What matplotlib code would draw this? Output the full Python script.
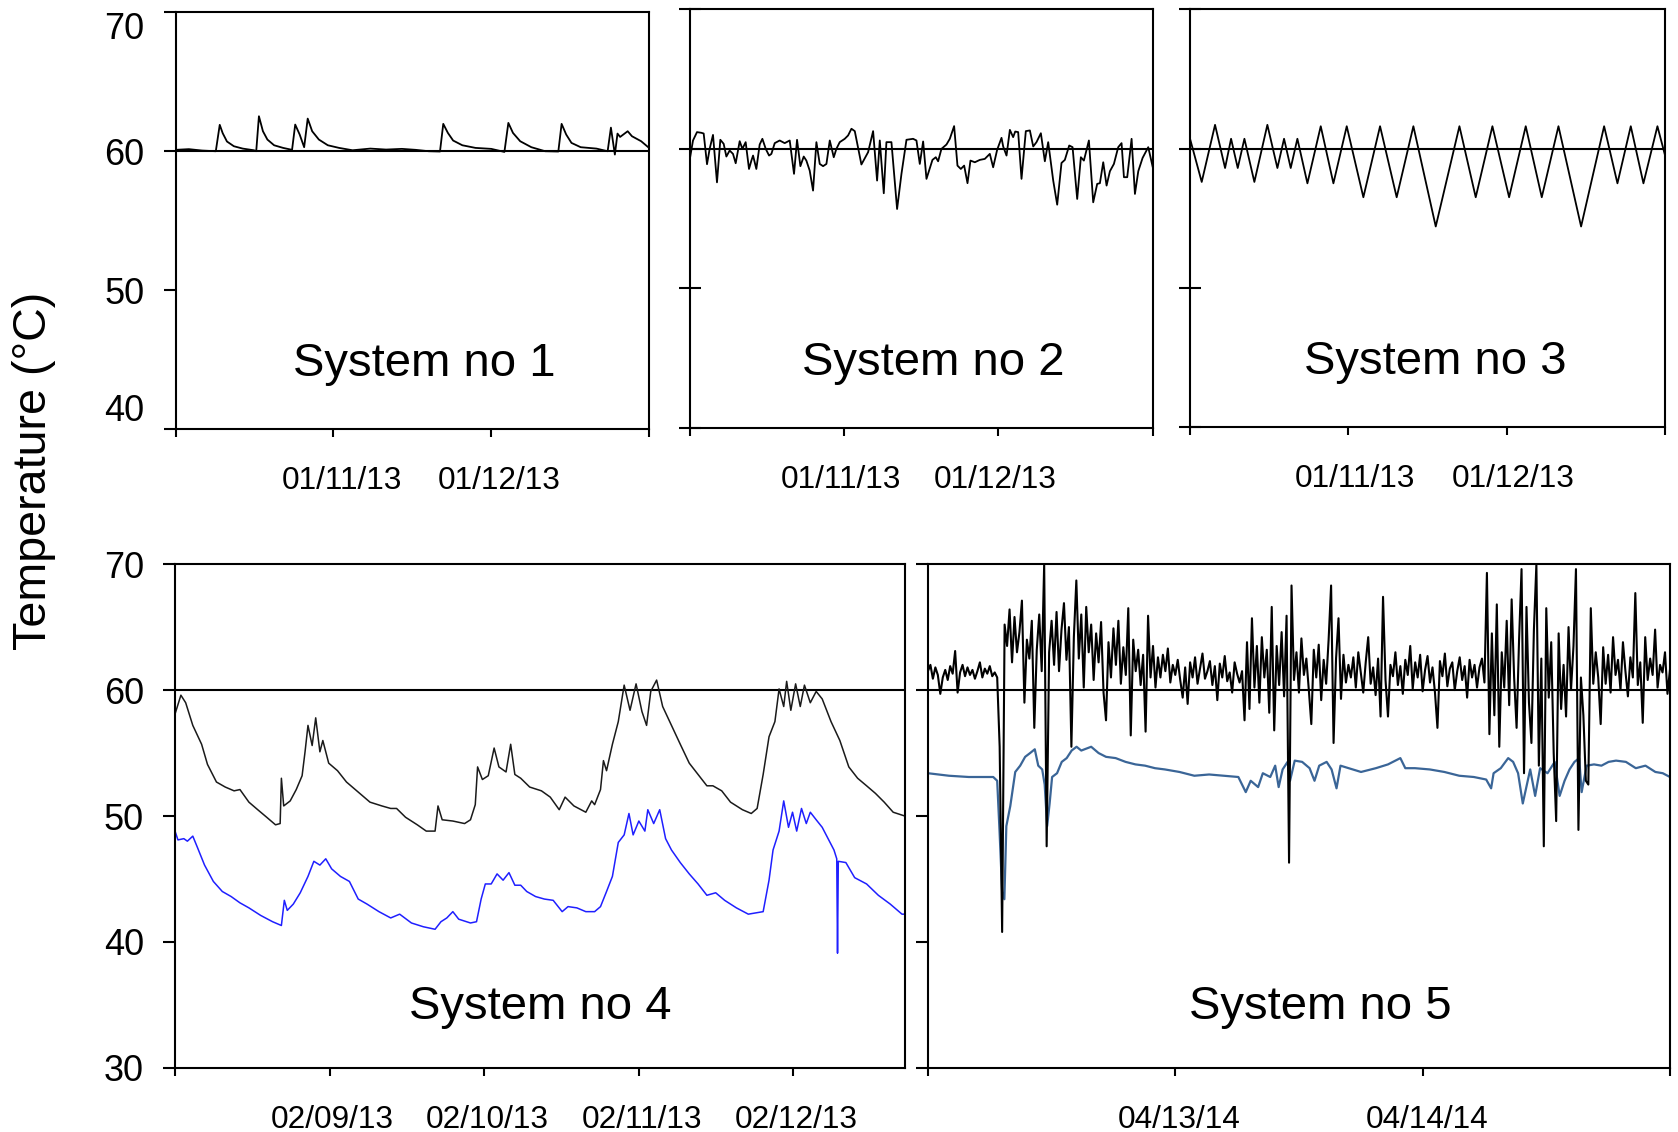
import numpy as np
import matplotlib
matplotlib.use("Agg")
import matplotlib.pyplot as plt
from matplotlib.transforms import ScaledTranslation

plt.rcParams['font.family'] = ['Liberation Sans', 'DejaVu Sans']

# ---- System no 1 (hours from 01/10/13 00:00, temperature) ----
s1 = [(0, 60.1), (2, 60.15), (4, 60.05), (6.1, 60.0), (6.7, 61.9), (7.15, 61.3),
      (7.8, 60.7), (8.85, 60.36), (10.2, 60.19), (11.9, 60.07), (12.25, 60.0),
      (12.66, 62.52), (13.27, 61.44), (13.95, 60.84), (14.97, 60.43), (16.34, 60.24),
      (17.7, 60.1), (18.18, 61.92), (18.86, 61.2), (19.54, 60.29), (20.08, 62.35),
      (20.76, 61.44), (21.78, 60.84), (23.14, 60.43), (24.85, 60.24), (26.9, 60.07),
      (29.6, 60.19), (32, 60.12), (34.4, 60.17), (36.5, 60.1), (38.5, 60.0),
      (40.2, 59.98), (40.7, 61.97), (41.4, 61.32), (42.2, 60.77), (43.6, 60.43),
      (45.6, 60.24), (48.0, 60.17), (50.0, 59.95), (50.6, 62.04), (51.3, 61.32),
      (52.4, 60.72), (54.1, 60.29), (56.2, 60.0), (58.2, 59.98), (58.7, 61.97),
      (59.4, 61.2), (60.2, 60.6), (61.6, 60.29), (64.0, 60.19), (65.7, 60.0),
      (66.2, 61.7), (66.8, 59.76), (67.2, 61.27), (67.6, 61.03), (68.75, 61.44),
      (69.4, 61.08), (70.8, 60.72), (72, 60.24)]

# ---- System no 2 ----
s2_hours = [0.0, 0.52, 1.14, 1.82, 2.18, 2.70, 3.11, 3.63, 4.25, 4.77,
            5.29, 5.71, 6.22, 6.74, 7.16, 7.78, 8.20, 8.71, 9.23, 9.60,
            9.86, 10.37, 10.89, 11.31, 11.83, 12.35, 12.71, 13.23, 14.00, 14.78,
            15.56, 16.23, 16.70, 17.22, 17.74, 18.15, 18.67, 19.19, 19.71, 20.23,
            20.75, 21.27, 21.79, 22.41, 22.82, 23.34, 24.12, 24.64, 25.16, 25.68,
            26.71, 27.75, 28.53, 29.15, 29.57, 30.19, 30.60, 31.38, 32.26, 32.94,
            33.72, 34.75, 35.27, 35.79, 36.31, 36.83, 37.76, 38.28, 38.64, 39.16,
            39.94, 40.46, 41.13, 41.65, 42.17, 42.69, 43.21, 43.67, 44.35, 45.13,
            45.90, 46.68, 47.20, 47.82, 48.50, 48.76, 49.28, 49.80, 50.31, 50.63,
            51.09, 51.61, 52.28, 52.91, 53.43, 53.94, 54.62, 55.24, 55.76, 56.54,
            57.16, 57.83, 58.35, 59.03, 59.55, 60.27, 60.84, 61.31, 62.09, 62.76,
            63.38, 63.80, 64.32, 64.84, 65.36, 65.98, 66.65, 67.17, 67.54, 68.05,
            68.73, 69.25, 69.77, 70.44, 71.32, 72.0]
s2_temp = [59.2, 60.6, 61.2, 61.15, 61.1, 58.9, 60.0, 61.0, 57.6, 60.65,
           60.36, 59.45, 59.88, 59.64, 58.97, 60.55, 60.0, 60.48, 58.56, 59.16,
           59.52, 58.56, 60.31, 60.72, 60.0, 59.52, 59.64, 60.41, 60.6, 60.41,
           60.6, 58.21, 60.65, 58.76, 59.45, 59.16, 58.44, 57.01, 60.48, 58.92,
           58.76, 58.92, 60.6, 59.4, 60.0, 60.48, 60.72, 60.96, 61.44, 61.27,
           58.88, 59.76, 61.27, 57.73, 60.6, 56.82, 60.48, 60.48, 55.69, 58.21,
           60.65, 60.72, 60.6, 58.92, 60.53, 57.85, 59.21, 59.4, 59.11, 60.0,
           60.31, 60.72, 61.63, 58.8, 58.56, 58.8, 57.54, 59.16, 59.04, 59.21,
           59.28, 59.64, 58.68, 59.93, 60.79, 60.17, 59.52, 61.36, 60.84, 61.24,
           61.2, 57.85, 61.27, 61.32, 60.17, 60.48, 61.12, 59.11, 60.48, 57.73,
           56.0, 58.99, 59.21, 60.24, 60.12, 56.41, 59.4, 59.16, 60.6, 56.17,
           57.49, 57.54, 59.04, 57.37, 58.4, 58.92, 60.12, 60.41, 57.97, 57.97,
           60.72, 56.77, 58.4, 59.35, 60.12, 58.73]

# ---- System no 3 ----
s3_hours = [0, 1.77, 3.79, 5.31, 6.22, 7.23, 8.24, 9.75, 11.72, 13.24, 14.25, 15.26,
            16.27, 17.79, 19.81, 21.73, 23.75, 26.27, 28.80, 31.32, 33.85, 37.24,
            40.83, 43.30, 45.83, 48.36, 50.88, 53.31, 55.84, 59.27, 62.76, 64.78,
            66.80, 68.72, 70.84, 72.0]
s3_temp = [60.7, 57.6, 61.7, 58.6, 60.7, 58.6, 60.7, 57.6, 61.7, 58.6, 60.7, 58.6,
           60.7, 57.5, 61.6, 57.5, 61.6, 56.5, 61.6, 56.5, 61.6, 54.4,
           61.6, 56.5, 61.6, 56.5, 61.6, 56.5, 61.6, 54.4, 61.6, 57.5,
           61.6, 57.5, 61.6, 59.5]

top_ticks = [0, 24, 48, 72]
top_labels = ['', '01/11/13', '01/12/13', '']

# ---- System no 4 (days from 02/08/13 00:00) ----
s4_black = [(0, 58.1), (0.038, 59.6), (0.069, 59.0), (0.115, 57.2), (0.172, 55.7),
            (0.21, 54.1), (0.268, 52.7), (0.325, 52.3), (0.382, 52.0), (0.42, 52.1),
            (0.478, 51.1), (0.535, 50.5), (0.593, 49.9), (0.65, 49.3), (0.68, 49.4),
            (0.688, 53.0), (0.703, 50.8), (0.745, 51.2), (0.784, 52.1), (0.822, 53.2),
            (0.841, 55.1), (0.86, 57.2), (0.887, 55.6), (0.91, 57.8), (0.937, 55.1),
            (0.956, 56.0), (0.994, 54.2), (1.051, 53.6), (1.109, 52.7), (1.166, 52.1),
            (1.204, 51.7), (1.261, 51.1), (1.338, 50.8), (1.395, 50.6), (1.433, 50.6),
            (1.491, 49.9), (1.567, 49.3), (1.625, 48.8), (1.682, 48.8), (1.701, 50.8),
            (1.728, 49.7), (1.797, 49.6), (1.873, 49.4), (1.911, 49.7), (1.942, 50.9),
            (1.957, 53.9), (1.988, 52.9), (2.026, 53.2), (2.064, 55.4), (2.095, 53.9),
            (2.141, 53.5), (2.171, 55.7), (2.198, 53.3), (2.236, 53.0), (2.294, 52.3),
            (2.37, 52.0), (2.427, 51.5), (2.485, 50.5), (2.523, 51.5), (2.58, 50.8),
            (2.657, 50.3), (2.695, 51.2), (2.714, 50.9), (2.752, 52.1), (2.771, 54.4),
            (2.791, 53.6), (2.829, 55.7), (2.867, 57.5), (2.905, 60.4), (2.943, 58.4),
            (2.982, 60.5), (3.02, 58.3), (3.05, 57.2), (3.077, 59.9), (3.115, 60.8),
            (3.154, 58.7), (3.211, 57.2), (3.268, 55.7), (3.326, 54.2), (3.383, 53.3),
            (3.44, 52.4), (3.479, 52.4), (3.536, 52.0), (3.593, 51.1), (3.67, 50.5),
            (3.727, 50.2), (3.765, 50.6), (3.804, 53.3), (3.842, 56.3), (3.88, 57.5),
            (3.907, 60.1), (3.937, 58.7), (3.956, 60.7), (3.983, 58.4), (4.014, 60.5),
            (4.044, 58.7), (4.071, 60.4), (4.109, 59.0), (4.147, 59.9), (4.186, 59.3),
            (4.243, 57.5), (4.3, 56.0), (4.358, 53.9), (4.415, 53.0), (4.473, 52.4),
            (4.53, 51.8), (4.587, 51.1), (4.645, 50.3), (4.72, 50.0)]
s4_blue = [(0, 48.8), (0.019, 48.1), (0.057, 48.2), (0.08, 48.0), (0.115, 48.4),
           (0.145, 47.5), (0.191, 46.1), (0.248, 44.8), (0.306, 44.0), (0.363, 43.6),
           (0.42, 43.1), (0.478, 42.7), (0.554, 42.1), (0.631, 41.6), (0.688, 41.3),
           (0.707, 43.3), (0.726, 42.5), (0.765, 43.0), (0.81, 43.9), (0.86, 45.2),
           (0.898, 46.4), (0.937, 46.1), (0.975, 46.6), (1.013, 45.8), (1.07, 45.2),
           (1.128, 44.8), (1.185, 43.4), (1.242, 43.0), (1.319, 42.4), (1.395, 41.9),
           (1.453, 42.2), (1.529, 41.5), (1.606, 41.2), (1.682, 41.0), (1.72, 41.6),
           (1.758, 41.9), (1.797, 42.4), (1.835, 41.8), (1.911, 41.5), (1.95, 41.6),
           (1.98, 43.4), (2.007, 44.6), (2.045, 44.6), (2.083, 45.4), (2.122, 44.9),
           (2.16, 45.5), (2.198, 44.5), (2.236, 44.5), (2.275, 44.0), (2.332, 43.6),
           (2.389, 43.4), (2.446, 43.3), (2.504, 42.4), (2.542, 42.8), (2.599, 42.7),
           (2.657, 42.4), (2.714, 42.4), (2.752, 42.8), (2.791, 44.0), (2.829, 45.2),
           (2.867, 47.9), (2.905, 48.5), (2.936, 50.2), (2.963, 48.5), (3.0, 49.6),
           (3.039, 48.8), (3.058, 50.5), (3.096, 49.4), (3.135, 50.5), (3.173, 48.2),
           (3.211, 47.3), (3.268, 46.3), (3.326, 45.4), (3.383, 44.6), (3.44, 43.7),
           (3.497, 43.9), (3.555, 43.3), (3.631, 42.7), (3.708, 42.2), (3.804, 42.4),
           (3.842, 44.9), (3.868, 47.3), (3.907, 48.8), (3.937, 51.2), (3.968, 49.1),
           (3.994, 50.3), (4.021, 48.8), (4.052, 50.6), (4.083, 49.4), (4.109, 50.3),
           (4.147, 49.7), (4.186, 49.1), (4.224, 48.2), (4.262, 47.3), (4.28, 46.6),
           (4.285, 39.1), (4.29, 46.4), (4.339, 46.3), (4.396, 45.1), (4.473, 44.6),
           (4.549, 43.7), (4.626, 43.0), (4.702, 42.2), (4.72, 42.2)]
s4_ticks = [0, 1, 2, 3, 4]
s4_labels = ['', '02/09/13', '02/10/13', '02/11/13', '02/12/13']

# ---- System no 5 (days from 04/12/14 00:00, black sampled every 0.01 day) ----
s5_black = [61.5, 62.0, 60.9, 61.8, 61.2, 59.7, 61.0, 61.6, 60.8, 61.9, 61.3, 63.1, 59.8, 61.4,
            62.0, 61.1, 61.8, 61.2, 61.6, 60.9, 61.5, 62.2, 61.0, 61.7, 61.3, 61.9, 61.1, 61.4,
            61.0, 55.5, 40.8, 65.2, 63.5, 66.4, 62.2, 65.8, 63.0, 64.6, 67.1, 59.0, 64.0,
            62.5, 65.5, 57.0, 63.2, 66.0, 61.5, 70.0, 47.6,
            63.0, 65.5, 62.0, 66.2, 61.5, 64.8, 66.9, 62.4, 65.0, 55.5, 64.2, 68.7, 62.5,
            66.0, 60.2, 66.6, 63.0, 65.2, 60.8, 64.5, 62.2, 65.4, 59.8, 57.6, 63.8, 61.0,
            64.9, 62.0, 65.5, 60.5, 63.4, 61.2, 66.5, 56.4, 64.0, 61.5, 63.2, 60.4, 62.8,
            56.7, 65.9, 61.0, 63.5, 60.2, 62.6, 61.0, 62.8,
            61.5, 63.3, 60.6, 62.0, 61.2, 62.4, 60.8, 59.4, 61.8, 58.9, 62.2, 61.0, 62.6,
            60.5, 61.7, 62.9, 60.9, 61.5, 62.3, 60.4, 61.9, 59.2, 62.1, 61.0, 62.7, 60.7,
            61.4, 59.8, 62.2, 61.3, 60.6,
            61.5, 57.6, 63.8, 58.5, 65.7, 60.2, 63.5, 59.0, 64.2, 61.0, 63.2, 58.2, 66.6,
            56.8, 63.5, 60.4, 64.6, 59.5, 65.9, 46.3, 68.3, 60.8, 63.0, 59.8, 64.1, 61.2,
            62.5, 60.0, 57.3, 63.2, 61.0, 63.6, 59.2, 62.4, 60.5, 64.0, 68.3, 55.8, 62.5,
            65.7, 59.3, 62.8, 60.6, 62.0,
            61.0, 62.6, 60.2, 63.0, 61.4, 59.8, 62.2, 64.2, 60.5, 61.8, 59.6, 62.5, 57.9,
            67.4, 60.8, 57.9, 62.0, 61.1, 63.0, 60.4, 61.9, 59.7, 62.4, 61.2, 63.5, 60.1,
            62.2, 61.0, 62.8, 59.9, 61.6, 62.7, 60.6, 61.8, 59.8, 57.0, 62.3, 61.1, 62.9,
            60.3, 61.7, 62.2, 60.0, 61.5, 62.6, 60.8, 61.9, 59.4, 62.4, 61.0, 62.0, 60.2,
            61.8, 62.5, 60.6, 69.3, 56.5,
            64.5, 58.0, 66.8, 55.5, 63.0, 60.2, 65.5, 58.8, 67.2, 61.0, 57.0, 64.0, 69.6,
            53.4, 66.6, 59.0, 55.8, 64.8, 70.0, 54.0, 62.5, 47.6, 66.5, 59.4, 63.8, 55.0,
            49.6, 64.5, 58.5, 62.0, 57.9, 65.0, 60.0, 63.5, 69.6, 48.9, 61.0, 58.0, 52.8,
            52.5, 66.5, 60.5, 63.0,
            61.0, 57.3, 63.4, 60.5, 62.8, 59.8, 64.2, 61.2, 62.4, 60.0, 63.8, 61.5, 59.5,
            62.6, 61.0, 67.7, 60.4, 62.2, 57.4, 64.2, 60.8, 62.5, 61.2, 64.8, 60.2, 62.0,
            61.4, 63.0, 59.7, 61.6]
s5_blue = [(0, 53.4), (0.085, 53.2), (0.165, 53.1), (0.264, 53.1), (0.28, 52.8), (0.29, 48.6),
           (0.3, 44.0), (0.309, 43.4), (0.317, 49.2), (0.333, 50.8), (0.353, 53.5), (0.373, 54.0),
           (0.393, 54.7), (0.413, 55.0), (0.432, 55.3), (0.446, 54.0), (0.462, 53.7), (0.472, 52.5),
           (0.482, 49.2), (0.492, 51.0), (0.502, 53.1), (0.522, 53.4), (0.541, 54.3), (0.561, 54.6),
           (0.581, 55.2), (0.601, 55.5), (0.62, 55.2), (0.66, 55.5), (0.69, 55.0), (0.72, 54.7),
           (0.759, 54.6), (0.799, 54.3), (0.839, 54.1), (0.878, 54.0), (0.918, 53.8), (0.958, 53.7),
           (1.017, 53.5), (1.077, 53.2), (1.137, 53.3), (1.196, 53.2), (1.255, 53.1), (1.285, 51.9),
           (1.305, 52.8), (1.335, 52.3), (1.354, 53.4), (1.384, 53.1), (1.404, 54.0), (1.418, 52.3),
           (1.434, 53.7), (1.454, 54.3), (1.464, 52.8), (1.483, 54.4), (1.513, 54.3), (1.543, 53.8),
           (1.563, 52.8), (1.582, 54.0), (1.612, 54.3), (1.632, 53.7), (1.652, 52.2), (1.668, 54.0),
           (1.701, 53.8), (1.751, 53.5), (1.811, 53.8), (1.86, 54.1), (1.91, 54.6), (1.93, 53.8),
           (1.969, 53.8), (2.029, 53.7), (2.088, 53.5), (2.148, 53.2), (2.207, 53.1), (2.257, 52.9),
           (2.277, 52.2), (2.287, 53.4), (2.316, 53.8), (2.346, 54.6), (2.366, 54.3), (2.386, 53.4),
           (2.405, 51.0), (2.415, 51.9), (2.435, 53.7), (2.455, 51.6), (2.475, 53.8), (2.505, 53.4),
           (2.534, 54.3), (2.554, 51.6), (2.574, 52.8), (2.594, 53.7), (2.614, 54.3), (2.633, 54.6),
           (2.643, 51.9), (2.663, 54.0), (2.693, 54.1), (2.723, 54.0), (2.752, 54.3), (2.782, 54.4),
           (2.822, 54.3), (2.862, 53.8), (2.901, 54.0), (2.941, 53.5), (2.971, 53.4), (3.0, 53.1)]
s5_ticks = [0, 1, 2, 3]
s5_labels = ['', '04/13/14', '04/14/14', '']

fig = plt.figure(figsize=(16.78, 11.32), dpi=100)


def style(ax, yticks, ylabels, xticks, xlabels, ydir='out', xshift=0):
    for sp in ax.spines.values():
        sp.set_linewidth(1.5)
        sp.set_color('black')
    ax.set_yticks(yticks)
    ax.set_xticks(xticks)
    ax.set_xticklabels(xlabels)
    if ylabels:
        ax.set_yticklabels([str(v) for v in yticks])
    else:
        ax.set_yticklabels([])
    ylen = 16.5 if ydir == 'inout' else 8.4
    ax.tick_params(axis='y', direction=ydir, length=ylen, width=1.5, labelsize=26, pad=14)
    ax.tick_params(axis='x', direction='out', length=5.8, width=1.5, labelsize=22.7, pad=21)
    # small horizontal nudge of the date labels, as in the original
    off = ScaledTranslation(xshift / 72, 0, fig.dpi_scale_trans)
    for lbl in ax.get_xticklabels():
        lbl.set_transform(lbl.get_transform() + off)
    ax.axhline(60, color='black', lw=1.5, zorder=1)


# top row
ax1 = fig.add_axes([0.1047, 0.6210, 0.2821, 0.3681])
h, t = np.array(s1).T
ax1.plot(h, t, color='black', lw=1.3)
ax1.set_xlim(0, 72)
ax1.set_ylim(40, 70)
style(ax1, [40, 50, 60, 70], True, top_ticks, top_labels, xshift=6)
ylbls = ax1.get_yticklabels()
ylbls[0].set_verticalalignment('bottom')
ylbls[-1].set_verticalalignment('top')
ax1.text(0.526, 0.155, 'System no 1', transform=ax1.transAxes, fontsize=34,
         ha='center', va='center')

ax2 = fig.add_axes([0.4110, 0.6219, 0.2759, 0.3699])
ax2.plot(s2_hours, s2_temp, color='black', lw=1.3)
ax2.set_xlim(0, 72)
ax2.set_ylim(40, 70)
style(ax2, [40, 50, 60, 70], False, top_ticks, top_labels, ydir='inout', xshift=-2.5)
ax2.text(0.527, 0.155, 'System no 2', transform=ax2.transAxes, fontsize=34,
         ha='center', va='center')

ax3 = fig.add_axes([0.7092, 0.6228, 0.2831, 0.3690])
ax3.plot(s3_hours, s3_temp, color='black', lw=1.3)
ax3.set_xlim(0, 72)
ax3.set_ylim(40, 70)
style(ax3, [40, 50, 60, 70], False, top_ticks, top_labels, ydir='inout', xshift=5)
ax3.text(0.516, 0.155, 'System no 3', transform=ax3.transAxes, fontsize=34,
         ha='center', va='center')

# bottom row
ax4 = fig.add_axes([0.1043, 0.0568, 0.4349, 0.4447])
d, t = np.array(s4_black).T
ax4.plot(d, t, color='#1a1a1a', lw=1.1)
d, t = np.array(s4_blue).T
ax4.plot(d, t, color='#1f1fff', lw=1.1)
ax4.set_xlim(0, 4.72)
ax4.set_ylim(30, 70)
style(ax4, [30, 40, 50, 60, 70], True, s4_ticks, s4_labels, xshift=2)
ax4.text(0.50, 0.121, 'System no 4', transform=ax4.transAxes, fontsize=34,
         ha='center', va='center')

ax5 = fig.add_axes([0.5530, 0.0565, 0.4422, 0.4452])
ax5.plot(np.linspace(0, 3, len(s5_black)), s5_black, color='black', lw=1.5, zorder=3)
d, t = np.array(s5_blue).T
ax5.plot(d, t, color='#3a6597', lw=1.6, zorder=2)
ax5.set_xlim(0, 3)
ax5.set_ylim(30, 70)
style(ax5, [30, 40, 50, 60, 70], False, s5_ticks, s5_labels, xshift=3)
ax5.text(0.529, 0.121, 'System no 5', transform=ax5.transAxes, fontsize=34,
         ha='center', va='center')

fig.text(0.020, 0.584, 'Temperature (°C)', rotation=90, fontsize=33.6,
         ha='center', va='center')

fig.savefig('out.png', dpi=100)
